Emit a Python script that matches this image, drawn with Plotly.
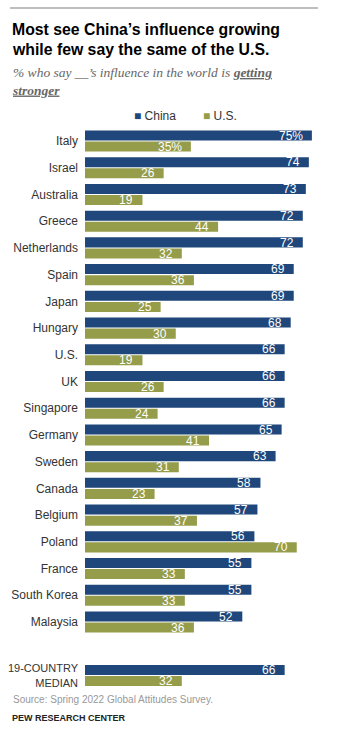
import plotly.graph_objects as go

countries = ["Italy", "Israel", "Australia", "Greece", "Netherlands", "Spain", "Japan",
             "Hungary", "U.S.", "UK", "Singapore", "Germany", "Sweden", "Canada",
             "Belgium", "Poland", "France", "South Korea", "Malaysia",
             "<span style='font-size:11px'>19-COUNTRY<br>MEDIAN</span>"]
china = [75, 74, 73, 72, 72, 69, 69, 68, 66, 66, 66, 65, 63, 58, 57, 56, 55, 55, 52, 66]
us = [35, 26, 19, 44, 32, 36, 25, 30, 19, 26, 24, 41, 31, 23, 37, 70, 33, 33, 36, 32]
positions = list(range(19)) + [20]

C_CHINA = "#1f477b"
C_US = "#959c4a"

def labels(vals):
    return [f"{v}%" if i == 0 else str(v) for i, v in enumerate(vals)]

fig = go.Figure()
fig.add_trace(go.Bar(y=positions, x=china, orientation="h", marker_color=C_CHINA,
                     marker_line_width=0,
                     width=0.375, offset=-0.395, name="China", hoverinfo="skip"))
fig.add_trace(go.Bar(y=positions, x=us, orientation="h", marker_color=C_US,
                     marker_line_width=0,
                     width=0.375, offset=0.02, name="U.S.", hoverinfo="skip"))

ann = []
for p, v, t in zip(positions, china, labels(china)):
    ann.append(dict(x=v, y=p - 0.2, text=t, xanchor="right", yanchor="middle", xshift=-7,
                    showarrow=False, font=dict(family="Liberation Sans", size=12, color="white")))
for p, v, t in zip(positions, us, labels(us)):
    ann.append(dict(x=v, y=p + 0.21, text=t, xanchor="right", yanchor="middle", xshift=-7,
                    showarrow=False, font=dict(family="Liberation Sans", size=12, color="white")))

W, H = 354, 738
ML, MR, MT, MB = 85, 27, 125, 46
PW, PH = W - ML - MR, H - MT - MB

def px(x, y):
    return (x - ML) / PW, (H - MB - y) / PH

def paper(**k):
    return dict(xref="paper", yref="paper", showarrow=False, **k)

fig.update_layout(
    width=W, height=H,
    margin=dict(l=ML, r=MR, t=MT, b=MB, autoexpand=False),
    plot_bgcolor="white", paper_bgcolor="white",
    showlegend=False,
    barmode="overlay",
    xaxis=dict(range=[0, 80], visible=False, fixedrange=True, automargin=False),
    yaxis=dict(range=[20.62, -0.6], tickvals=positions, ticktext=countries,
               showgrid=False, zeroline=False, showline=False, ticks="",
               ticklabelstandoff=6, automargin=False,
               tickfont=dict(family="Liberation Sans", size=12, color="#333333"),
               fixedrange=True),
)

xa, ya = px(10, 8)
xb, _ = px(318, 8)
fig.add_shape(type="line", xref="paper", yref="paper", layer="above",
              x0=xa, x1=xb, y0=ya, y1=ya, line=dict(color="#7f7f7f", width=1.2))

for txt, yy in [("Most see China\u2019s influence growing", 29),
                ("while few say the same of the U.S.", 50)]:
    x0, y0 = px(10, yy)
    ann.append(paper(x=x0, y=y0, xanchor="left", yanchor="middle", align="left",
                     text=f"<b>{txt}</b>",
                     font=dict(family="Liberation Sans", size=15.8, color="#000000")))
x0, y0 = px(10, 81)
ann.append(paper(x=x0, y=y0, xanchor="left", yanchor="middle", align="left",
                 text="<i>% who say __\u2019s influence in the world is <b><u>getting</u></b><br><b><u>stronger</u></b></i>",
                 font=dict(family="Liberation Serif", size=13.5, color="#666666")))
x0, y0 = px(132, 116)
ann.append(paper(x=x0, y=y0, xanchor="left", yanchor="middle",
                 text=f"<span style='color:{C_CHINA}'>\u25a0</span> China",
                 font=dict(family="Liberation Sans", size=12, color="#333333")))
x0, y0 = px(201, 116)
ann.append(paper(x=x0, y=y0, xanchor="left", yanchor="middle",
                 text=f"<span style='color:{C_US}'>\u25a0</span> U.S.",
                 font=dict(family="Liberation Sans", size=12, color="#333333")))
x0, y0 = px(11, 699)
ann.append(paper(x=x0, y=y0, xanchor="left", yanchor="middle",
                 text="Source: Spring 2022 Global Attitudes Survey.",
                 font=dict(family="Liberation Sans", size=10, color="#999999")))
x0, y0 = px(10, 718)
ann.append(paper(x=x0, y=y0, xanchor="left", yanchor="middle",
                 text="<b>PEW RESEARCH CENTER</b>",
                 font=dict(family="Liberation Sans", size=9, color="#222222")))

fig.update_layout(annotations=ann)
fig.write_html("out.html")
